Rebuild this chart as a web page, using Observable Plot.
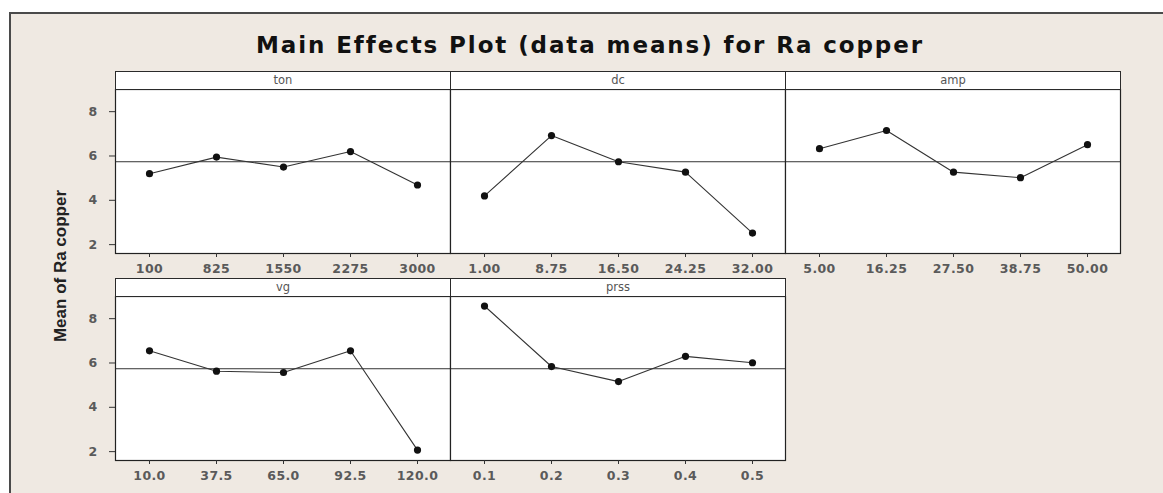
<!DOCTYPE html>
<html>
<head>
<meta charset="utf-8">
<script src="https://cdn.jsdelivr.net/npm/d3@7"></script>
<script src="https://cdn.jsdelivr.net/npm/@observablehq/plot@0.6"></script>
<style>
  html, body { margin: 0; padding: 0; background: #ffffff; overflow: hidden; width: 1163px; height: 493px; }
  #frame { position: absolute; left: 9px; top: 12px; width: 1170px; height: 500px; background: #efe9e2;
           border-left: 2px solid #4a4a4a; border-top: 2px solid #4a4a4a; }
  .title { position: absolute; left: 0; width: 1180px; top: 32px; text-align: center;
           font-family: "DejaVu Sans", Verdana, sans-serif; font-weight: bold; font-size: 23px; letter-spacing: 1.9px; color: #111; }
  .ylabel { position: absolute; left: 61px; top: 266px; transform: translate(-50%, -50%) rotate(-90deg);
            font-family: "Liberation Sans", Arial, sans-serif; font-weight: bold; font-size: 17px; color: #222; white-space: nowrap; }
  .strip { position: absolute; box-sizing: border-box; height: 19px; background: #fff; border: 1px solid #2a2a2a;
           text-align: center; font-family: "DejaVu Sans", Verdana, sans-serif; font-size: 11.5px; line-height: 16px; color: #555; }
  .panel { position: absolute; }
</style>
</head>
<body>
<div id="frame"></div>
<div class="title">Main Effects Plot (data means) for Ra copper</div>
<div class="ylabel">Mean of Ra copper</div>
<div id="root"></div>
<script>
// ---- data ----
const factors = ["ton", "dc", "amp", "vg", "prss"];
const tonLevels = ["100", "825", "1550", "2275", "3000"];
const tonMeans = [5.20, 5.95, 5.50, 6.20, 4.69];
const dcLevels = ["1.00", "8.75", "16.50", "24.25", "32.00"];
const dcMeans = [4.20, 6.92, 5.74, 5.27, 2.52];
const ampLevels = ["5.00", "16.25", "27.50", "38.75", "50.00"];
const ampMeans = [6.33, 7.15, 5.27, 5.02, 6.51];
const vgLevels = ["10.0", "37.5", "65.0", "92.5", "120.0"];
const vgMeans = [6.55, 5.63, 5.57, 6.55, 2.07];
const prssLevels = ["0.1", "0.2", "0.3", "0.4", "0.5"];
const prssMeans = [8.57, 5.84, 5.16, 6.30, 6.01];
const grandMean = 5.74;
const yTicks = [2, 4, 6, 8];
const yDomain = [1.6, 9];

const levelsBy = {ton: tonLevels, dc: dcLevels, amp: ampLevels, vg: vgLevels, prss: prssLevels};
const meansBy = {ton: tonMeans, dc: dcMeans, amp: ampMeans, vg: vgMeans, prss: prssMeans};

// ---- layout ----
const colLeft = [115, 450, 785];
const rowTop = [89, 296];
const W = 335, H = 164;
const ML = 45, MR = 1, MT = 1, MB = 30;

const root = document.getElementById("root");
factors.forEach((f, i) => {
  const col = i % 3, row = Math.floor(i / 3);
  const L = colLeft[col], T = rowTop[row];
  const data = levelsBy[f].map((lv, j) => ({level: lv, mean: meansBy[f][j]}));
  const marks = [
    Plot.frame({fill: "white"}),
    Plot.ruleY([grandMean], {stroke: "#333", strokeWidth: 1}),
    Plot.line(data, {x: "level", y: "mean", stroke: "#333", strokeWidth: 1.1}),
    Plot.dot(data, {x: "level", y: "mean", r: 3.6, fill: "#111", stroke: "none"}),
    Plot.frame({stroke: "#222", strokeWidth: 1.2}),
    Plot.axisX({label: null, tickSize: 4, tickPadding: 7, fontSize: 12.5, fontWeight: "bold", color: "#5a5a5a", stroke: "#333"})
  ];
  if (col === 0) marks.push(Plot.axisY({label: null, ticks: yTicks, tickSize: 6, tickPadding: 12, fontSize: 12.5, fontWeight: "bold", color: "#5a5a5a", stroke: "#333"}));
  const chart = Plot.plot({
    width: W + ML + MR, height: H + MT + MB,
    marginLeft: ML, marginRight: MR, marginTop: MT, marginBottom: MB,
    style: {background: "transparent", fontFamily: "DejaVu Sans, Verdana, sans-serif", overflow: "visible", letterSpacing: "0.4px"},
    x: {type: "point", domain: levelsBy[f], padding: 0.5, axis: null},
    y: {domain: yDomain, axis: null},
    marks
  });
  const wrap = document.createElement("div");
  wrap.className = "panel";
  wrap.style.left = (L - ML) + "px";
  wrap.style.top = (T - MT) + "px";
  wrap.appendChild(chart);
  root.appendChild(wrap);
  const strip = document.createElement("div");
  strip.className = "strip";
  strip.style.left = L + "px";
  strip.style.top = (T - 18) + "px";
  strip.style.width = (W + 1) + "px";
  strip.textContent = f;
  root.appendChild(strip);
});
</script>
</body>
</html>
